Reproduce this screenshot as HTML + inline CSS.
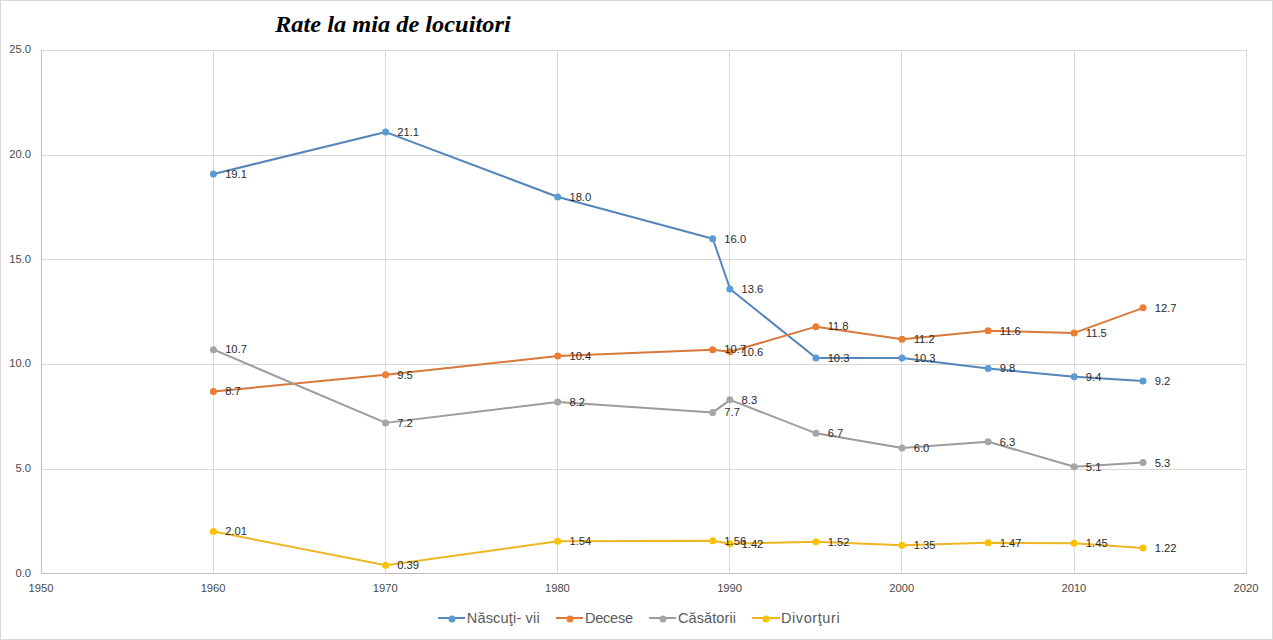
<!DOCTYPE html><html><head><meta charset="utf-8"><style>html,body{margin:0;padding:0;background:#fff;}svg{display:block;}text{font-family:"Liberation Sans",sans-serif;}</style></head><body>
<svg width="1273" height="640" viewBox="0 0 1273 640">
<rect x="0.5" y="0.5" width="1272" height="639" fill="#fff" stroke="#D9D9D9" stroke-width="1"/>
<path d="M213.5 50 V574 M385.5 50 V574 M557.5 50 V574 M729.5 50 V574 M901.5 50 V574 M1074.5 50 V574 M1246.5 50 V574 M41 50.5 H1247 M41 155.5 H1247 M41 259.5 H1247 M41 364.5 H1247 M41 469.5 H1247" stroke="#D9D9D9" stroke-width="1" fill="none" shape-rendering="crispEdges"/>
<path d="M41.5 50 V574 M41 573.5 H1247" stroke="#BFBFBF" stroke-width="1" fill="none" shape-rendering="crispEdges"/>
<text x="31" y="577" font-size="11.2" fill="#4A4A4A" text-anchor="end">0.0</text>
<text x="31" y="472" font-size="11.2" fill="#4A4A4A" text-anchor="end">5.0</text>
<text x="31" y="367" font-size="11.2" fill="#4A4A4A" text-anchor="end">10.0</text>
<text x="31" y="263" font-size="11.2" fill="#4A4A4A" text-anchor="end">15.0</text>
<text x="31" y="158" font-size="11.2" fill="#4A4A4A" text-anchor="end">20.0</text>
<text x="31" y="53" font-size="11.2" fill="#4A4A4A" text-anchor="end">25.0</text>
<text x="41.0" y="592" font-size="11.2" fill="#4A4A4A" text-anchor="middle">1950</text>
<text x="213.1" y="592" font-size="11.2" fill="#4A4A4A" text-anchor="middle">1960</text>
<text x="385.3" y="592" font-size="11.2" fill="#4A4A4A" text-anchor="middle">1970</text>
<text x="557.4" y="592" font-size="11.2" fill="#4A4A4A" text-anchor="middle">1980</text>
<text x="729.6" y="592" font-size="11.2" fill="#4A4A4A" text-anchor="middle">1990</text>
<text x="901.7" y="592" font-size="11.2" fill="#4A4A4A" text-anchor="middle">2000</text>
<text x="1073.9" y="592" font-size="11.2" fill="#4A4A4A" text-anchor="middle">2010</text>
<text x="1246.0" y="592" font-size="11.2" fill="#4A4A4A" text-anchor="middle">2020</text>
<text x="275" y="0" transform="translate(0 32.00) scale(1 0.950)" font-size="24.4" font-weight="bold" font-style="italic" style="font-family:'Liberation Serif',serif" fill="#000">Rate la mia de locuitori</text>
<polyline points="213.64,173.93 385.79,132.09 557.93,196.94 712.86,238.78 730.07,288.99 816.14,358.02 902.21,358.02 988.29,368.48 1074.36,376.85 1143.21,381.04" fill="none" stroke="#5586BA" stroke-width="2.00" stroke-linejoin="round" stroke-linecap="round"/>
<circle cx="213.44" cy="173.93" r="3.50" fill="#5B9BD5"/>
<circle cx="385.59" cy="132.09" r="3.50" fill="#5B9BD5"/>
<circle cx="557.73" cy="196.94" r="3.50" fill="#5B9BD5"/>
<circle cx="712.66" cy="238.78" r="3.50" fill="#5B9BD5"/>
<circle cx="729.87" cy="288.99" r="3.50" fill="#5B9BD5"/>
<circle cx="815.94" cy="358.02" r="3.50" fill="#5B9BD5"/>
<circle cx="902.01" cy="358.02" r="3.50" fill="#5B9BD5"/>
<circle cx="988.09" cy="368.48" r="3.50" fill="#5B9BD5"/>
<circle cx="1074.16" cy="376.85" r="3.50" fill="#5B9BD5"/>
<circle cx="1143.01" cy="381.04" r="3.50" fill="#5B9BD5"/>
<polyline points="213.64,391.50 385.79,374.76 557.93,355.93 712.86,349.66 730.07,351.75 816.14,326.64 902.21,339.20 988.29,330.83 1074.36,332.92 1143.21,307.82" fill="none" stroke="#D8783A" stroke-width="2.00" stroke-linejoin="round" stroke-linecap="round"/>
<circle cx="213.44" cy="391.50" r="3.50" fill="#ED7D31"/>
<circle cx="385.59" cy="374.76" r="3.50" fill="#ED7D31"/>
<circle cx="557.73" cy="355.93" r="3.50" fill="#ED7D31"/>
<circle cx="712.66" cy="349.66" r="3.50" fill="#ED7D31"/>
<circle cx="729.87" cy="351.75" r="3.50" fill="#ED7D31"/>
<circle cx="815.94" cy="326.64" r="3.50" fill="#ED7D31"/>
<circle cx="902.01" cy="339.20" r="3.50" fill="#ED7D31"/>
<circle cx="988.09" cy="330.83" r="3.50" fill="#ED7D31"/>
<circle cx="1074.16" cy="332.92" r="3.50" fill="#ED7D31"/>
<circle cx="1143.01" cy="307.82" r="3.50" fill="#ED7D31"/>
<polyline points="213.64,349.66 385.79,422.88 557.93,401.96 712.86,412.42 730.07,399.86 816.14,433.34 902.21,447.98 988.29,441.70 1074.36,466.81 1143.21,462.62" fill="none" stroke="#9C9C9C" stroke-width="2.00" stroke-linejoin="round" stroke-linecap="round"/>
<circle cx="213.44" cy="349.66" r="3.50" fill="#A5A5A5"/>
<circle cx="385.59" cy="422.88" r="3.50" fill="#A5A5A5"/>
<circle cx="557.73" cy="401.96" r="3.50" fill="#A5A5A5"/>
<circle cx="712.66" cy="412.42" r="3.50" fill="#A5A5A5"/>
<circle cx="729.87" cy="399.86" r="3.50" fill="#A5A5A5"/>
<circle cx="815.94" cy="433.34" r="3.50" fill="#A5A5A5"/>
<circle cx="902.01" cy="447.98" r="3.50" fill="#A5A5A5"/>
<circle cx="988.09" cy="441.70" r="3.50" fill="#A5A5A5"/>
<circle cx="1074.16" cy="466.81" r="3.50" fill="#A5A5A5"/>
<circle cx="1143.01" cy="462.62" r="3.50" fill="#A5A5A5"/>
<polyline points="213.64,531.45 385.79,565.34 557.93,541.28 712.86,540.86 730.07,543.79 816.14,541.70 902.21,545.26 988.29,542.75 1074.36,543.17 1143.21,547.98" fill="none" stroke="#EDB724" stroke-width="2.00" stroke-linejoin="round" stroke-linecap="round"/>
<circle cx="213.44" cy="531.45" r="3.50" fill="#FFC000"/>
<circle cx="385.59" cy="565.34" r="3.50" fill="#FFC000"/>
<circle cx="557.73" cy="541.28" r="3.50" fill="#FFC000"/>
<circle cx="712.66" cy="540.86" r="3.50" fill="#FFC000"/>
<circle cx="729.87" cy="543.79" r="3.50" fill="#FFC000"/>
<circle cx="815.94" cy="541.70" r="3.50" fill="#FFC000"/>
<circle cx="902.01" cy="545.26" r="3.50" fill="#FFC000"/>
<circle cx="988.09" cy="542.75" r="3.50" fill="#FFC000"/>
<circle cx="1074.16" cy="543.17" r="3.50" fill="#FFC000"/>
<circle cx="1143.01" cy="547.98" r="3.50" fill="#FFC000"/>
<text x="225.14" y="178" font-size="11.2" fill="#2A2A2A">19.1</text>
<text x="397.29" y="136" font-size="11.2" fill="#2A2A2A">21.1</text>
<text x="569.43" y="201" font-size="11.2" fill="#2A2A2A">18.0</text>
<text x="724.36" y="243" font-size="11.2" fill="#2A2A2A">16.0</text>
<text x="741.57" y="293" font-size="11.2" fill="#2A2A2A">13.6</text>
<text x="827.64" y="362" font-size="11.2" fill="#2A2A2A">10.3</text>
<text x="913.71" y="362" font-size="11.2" fill="#2A2A2A">10.3</text>
<text x="999.79" y="372" font-size="11.2" fill="#2A2A2A">9.8</text>
<text x="1085.86" y="381" font-size="11.2" fill="#2A2A2A">9.4</text>
<text x="1154.71" y="385" font-size="11.2" fill="#2A2A2A">9.2</text>
<text x="225.14" y="395" font-size="11.2" fill="#2A2A2A">8.7</text>
<text x="397.29" y="379" font-size="11.2" fill="#2A2A2A">9.5</text>
<text x="569.43" y="360" font-size="11.2" fill="#2A2A2A">10.4</text>
<text x="724.36" y="353" font-size="11.2" fill="#2A2A2A">10.7</text>
<text x="741.57" y="356" font-size="11.2" fill="#2A2A2A">10.6</text>
<text x="827.64" y="330" font-size="11.2" fill="#2A2A2A">11.8</text>
<text x="913.71" y="343" font-size="11.2" fill="#2A2A2A">11.2</text>
<text x="999.79" y="335" font-size="11.2" fill="#2A2A2A">11.6</text>
<text x="1085.86" y="337" font-size="11.2" fill="#2A2A2A">11.5</text>
<text x="1154.71" y="312" font-size="11.2" fill="#2A2A2A">12.7</text>
<text x="225.14" y="353" font-size="11.2" fill="#2A2A2A">10.7</text>
<text x="397.29" y="427" font-size="11.2" fill="#2A2A2A">7.2</text>
<text x="569.43" y="406" font-size="11.2" fill="#2A2A2A">8.2</text>
<text x="724.36" y="416" font-size="11.2" fill="#2A2A2A">7.7</text>
<text x="741.57" y="404" font-size="11.2" fill="#2A2A2A">8.3</text>
<text x="827.64" y="437" font-size="11.2" fill="#2A2A2A">6.7</text>
<text x="913.71" y="452" font-size="11.2" fill="#2A2A2A">6.0</text>
<text x="999.79" y="446" font-size="11.2" fill="#2A2A2A">6.3</text>
<text x="1085.86" y="471" font-size="11.2" fill="#2A2A2A">5.1</text>
<text x="1154.71" y="467" font-size="11.2" fill="#2A2A2A">5.3</text>
<text x="225.14" y="535" font-size="11.2" fill="#2A2A2A">2.01</text>
<text x="397.29" y="569" font-size="11.2" fill="#2A2A2A">0.39</text>
<text x="569.43" y="545" font-size="11.2" fill="#2A2A2A">1.54</text>
<text x="724.36" y="545" font-size="11.2" fill="#2A2A2A">1.56</text>
<text x="741.57" y="548" font-size="11.2" fill="#2A2A2A">1.42</text>
<text x="827.64" y="546" font-size="11.2" fill="#2A2A2A">1.52</text>
<text x="913.71" y="549" font-size="11.2" fill="#2A2A2A">1.35</text>
<text x="999.79" y="547" font-size="11.2" fill="#2A2A2A">1.47</text>
<text x="1085.86" y="547" font-size="11.2" fill="#2A2A2A">1.45</text>
<text x="1154.71" y="552" font-size="11.2" fill="#2A2A2A">1.22</text>
<line x1="438.0" y1="618" x2="465.0" y2="618" stroke="#5586BA" stroke-width="2"/>
<circle cx="452.00" cy="618.9" r="3.50" fill="#5B9BD5"/>
<text x="466.8" y="623" font-size="14.5" letter-spacing="0.18" fill="#595959">Născuţi- vii</text>
<line x1="556.0" y1="618" x2="583.0" y2="618" stroke="#D8783A" stroke-width="2"/>
<circle cx="570.00" cy="618.9" r="3.50" fill="#ED7D31"/>
<text x="584.9" y="623" font-size="14.5" letter-spacing="-0.20" fill="#595959">Decese</text>
<line x1="649.0" y1="618" x2="676.0" y2="618" stroke="#9C9C9C" stroke-width="2"/>
<circle cx="663.00" cy="618.9" r="3.50" fill="#A5A5A5"/>
<text x="677.9" y="623" font-size="14.5" letter-spacing="0.12" fill="#595959">Căsătorii</text>
<line x1="752.0" y1="618" x2="780.0" y2="618" stroke="#EDB724" stroke-width="2"/>
<circle cx="766.00" cy="618.9" r="3.50" fill="#FFC000"/>
<text x="780.9" y="623" font-size="14.5" letter-spacing="0.60" fill="#595959">Divorţuri</text>
</svg></body></html>
